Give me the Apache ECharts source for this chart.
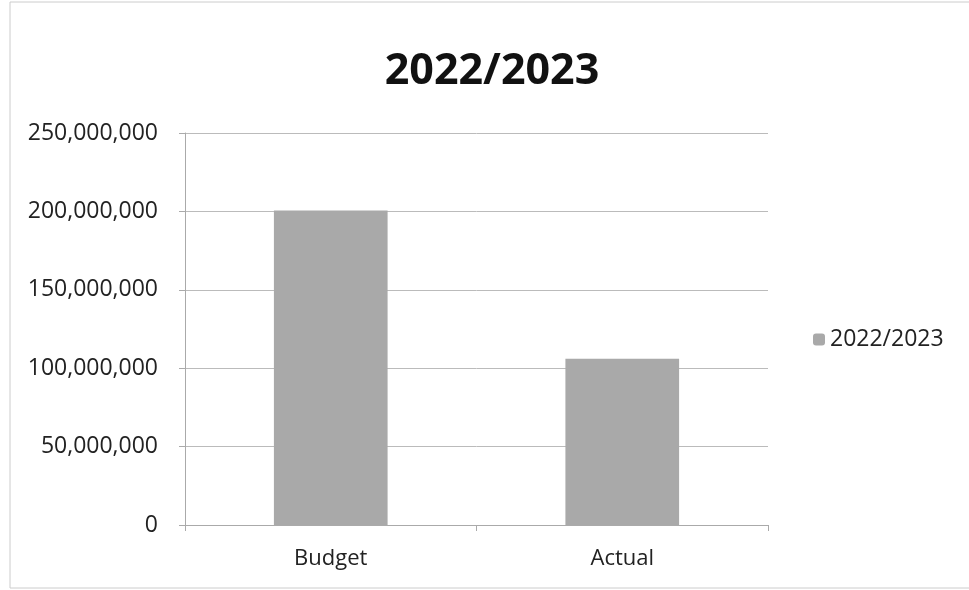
<!DOCTYPE html>
<html><head><meta charset="utf-8">
<script src="https://cdn.jsdelivr.net/npm/echarts@6/dist/echarts.min.js"></script>
<style>html,body{margin:0;padding:0;background:#fff}#c{width:969px;height:590px}</style>
</head><body><div id="c"></div>
<script>
const categories = ['Budget', 'Actual'];
const seriesName = '2022/2023';
const values = [200500000, 106000000];
const yTicks = [0, 50000000, 100000000, 150000000, 200000000, 250000000];

const chart = echarts.init(document.getElementById('c'));
const font = '"Open Sans", "DejaVu Sans", sans-serif';
chart.setOption({
  animation: false,
  backgroundColor: '#ffffff',
  title: {
    text: '2022/2023', left: 487, top: 45, textAlign: 'center',
    textStyle: { fontFamily: font, fontSize: 43, fontWeight: 'bold', color: '#111' }
  },
  legend: {
    data: [seriesName], left: 808, top: 323, itemWidth: 12, itemHeight: 12, itemGap: 6,
    textStyle: { fontFamily: font, fontSize: 23, color: '#222' }
  },
  grid: { left: 185, right: 201, top: 133, bottom: 65 },
  xAxis: {
    type: 'category', data: categories,
    axisLine: { lineStyle: { color: '#aaa' } },
    axisTick: { show: true, lineStyle: { color: '#aaa' }, length: 6 },
    axisLabel: { fontFamily: font, fontSize: 22, color: '#222', margin: 23 }
  },
  yAxis: {
    type: 'value', min: yTicks[0], max: yTicks[yTicks.length - 1], interval: yTicks[1] - yTicks[0],
    axisLine: { show: true, lineStyle: { color: '#aaa' } },
    axisTick: { show: true, lineStyle: { color: '#aaa' }, length: 6 },
    splitLine: { lineStyle: { color: '#bbb' } },
    axisLabel: {
      fontFamily: font, fontSize: 23, color: '#222', margin: 27,
      formatter: v => v.toLocaleString('en-US')
    }
  },
  series: [{
    name: seriesName, type: 'bar', data: values, barCategoryGap: '61%',
    itemStyle: { color: '#a9a9a9' }
  }],
  graphic: [{
    type: 'rect', shape: { x: 10, y: 2, width: 990, height: 586 },
    style: { fill: 'none', stroke: '#ccc', lineWidth: 1 }, silent: true
  }]
});
</script></body></html>
